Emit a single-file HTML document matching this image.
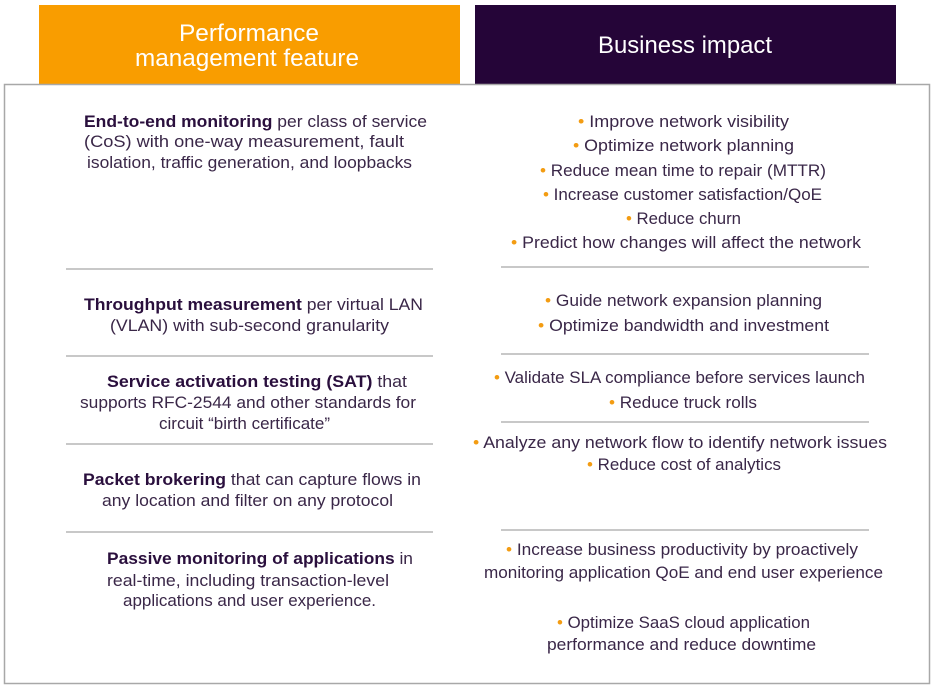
<!DOCTYPE html>
<html><head><meta charset="utf-8"><style>
html,body{margin:0;padding:0;background:#fff;}
svg{display:block;font-family:"Liberation Sans",sans-serif;}
.t{font-size:17px;fill:#3a2748;}
.b{font-weight:bold;fill:#2a0f3d;}
.o{fill:#f39c12;}
</style></head><body>
<svg width="934" height="689" viewBox="0 0 934 689" xmlns="http://www.w3.org/2000/svg">
<rect x="39" y="5" width="421" height="80" fill="#f99d00"/>
<rect x="475" y="5" width="421" height="80" fill="#250538"/>
<rect x="4.5" y="84.5" width="925" height="599" fill="none" stroke="#a8a8a8" stroke-width="1.5"/>
<text x="249" y="41" text-anchor="middle" font-size="24" fill="#fff" textLength="140" lengthAdjust="spacingAndGlyphs">Performance</text>
<text x="247" y="66" text-anchor="middle" font-size="24" fill="#fff" textLength="224" lengthAdjust="spacingAndGlyphs">management feature</text>
<text x="685" y="53" text-anchor="middle" font-size="24" fill="#fff" textLength="174" lengthAdjust="spacingAndGlyphs">Business impact</text>
<g stroke="#a8a8a8" stroke-width="1.3">
<line x1="66" y1="269" x2="433" y2="269"/><line x1="66" y1="356" x2="433" y2="356"/>
<line x1="66" y1="444" x2="433" y2="444"/><line x1="66" y1="532" x2="433" y2="532"/>
<line x1="501" y1="267" x2="869" y2="267"/><line x1="501" y1="354" x2="869" y2="354"/>
<line x1="501" y1="422" x2="869" y2="422"/><line x1="501" y1="530" x2="869" y2="530"/>
</g>
<g class="t">
<text x="84" y="127" textLength="343" lengthAdjust="spacingAndGlyphs"><tspan class="b">End-to-end monitoring</tspan> per class of service</text>
<text x="84" y="147" textLength="320" lengthAdjust="spacingAndGlyphs">(CoS) with one-way measurement, fault</text>
<text x="87" y="168" textLength="325" lengthAdjust="spacingAndGlyphs">isolation, traffic generation, and loopbacks</text>
<text x="84" y="310" textLength="339" lengthAdjust="spacingAndGlyphs"><tspan class="b">Throughput measurement</tspan> per virtual LAN</text>
<text x="110" y="331" textLength="279" lengthAdjust="spacingAndGlyphs">(VLAN) with sub-second granularity</text>
<text x="107" y="387" textLength="300" lengthAdjust="spacingAndGlyphs"><tspan class="b">Service activation testing (SAT)</tspan> that</text>
<text x="80" y="408" textLength="336" lengthAdjust="spacingAndGlyphs">supports RFC-2544 and other standards for</text>
<text x="159" y="429" textLength="171" lengthAdjust="spacingAndGlyphs">circuit “birth certificate”</text>
<text x="83" y="485" textLength="338" lengthAdjust="spacingAndGlyphs"><tspan class="b">Packet brokering</tspan> that can capture flows in</text>
<text x="102" y="506" textLength="291" lengthAdjust="spacingAndGlyphs">any location and filter on any protocol</text>
<text x="107" y="564" textLength="306" lengthAdjust="spacingAndGlyphs"><tspan class="b">Passive monitoring of applications</tspan> in</text>
<text x="107" y="586" textLength="282" lengthAdjust="spacingAndGlyphs">real-time, including transaction-level</text>
<text x="123" y="606" textLength="253" lengthAdjust="spacingAndGlyphs">applications and user experience.</text>

<text x="578" y="127" textLength="211" lengthAdjust="spacingAndGlyphs"><tspan class="o">• </tspan>Improve network visibility</text>
<text x="573" y="151" textLength="221" lengthAdjust="spacingAndGlyphs"><tspan class="o">• </tspan>Optimize network planning</text>
<text x="540" y="176" textLength="286" lengthAdjust="spacingAndGlyphs"><tspan class="o">• </tspan>Reduce mean time to repair (MTTR)</text>
<text x="543" y="200" textLength="279" lengthAdjust="spacingAndGlyphs"><tspan class="o">• </tspan>Increase customer satisfaction/QoE</text>
<text x="626" y="224" textLength="115" lengthAdjust="spacingAndGlyphs"><tspan class="o">• </tspan>Reduce churn</text>
<text x="511" y="248" textLength="350" lengthAdjust="spacingAndGlyphs"><tspan class="o">• </tspan>Predict how changes will affect the network</text>
<text x="545" y="306" textLength="277" lengthAdjust="spacingAndGlyphs"><tspan class="o">• </tspan>Guide network expansion planning</text>
<text x="538" y="331" textLength="291" lengthAdjust="spacingAndGlyphs"><tspan class="o">• </tspan>Optimize bandwidth and investment</text>
<text x="494" y="383" textLength="371" lengthAdjust="spacingAndGlyphs"><tspan class="o">• </tspan>Validate SLA compliance before services launch</text>
<text x="609" y="408" textLength="148" lengthAdjust="spacingAndGlyphs"><tspan class="o">• </tspan>Reduce truck rolls</text>
<text x="473" y="448" textLength="414" lengthAdjust="spacingAndGlyphs"><tspan class="o">• </tspan>Analyze any network flow to identify network issues</text>
<text x="587" y="470" textLength="194" lengthAdjust="spacingAndGlyphs"><tspan class="o">• </tspan>Reduce cost of analytics</text>
<text x="506" y="555" textLength="352" lengthAdjust="spacingAndGlyphs"><tspan class="o">• </tspan>Increase business productivity by proactively</text>
<text x="484" y="578" textLength="399" lengthAdjust="spacingAndGlyphs">monitoring application QoE and end user experience</text>
<text x="557" y="628" textLength="253" lengthAdjust="spacingAndGlyphs"><tspan class="o">• </tspan>Optimize SaaS cloud application</text>
<text x="547" y="650" textLength="269" lengthAdjust="spacingAndGlyphs">performance and reduce downtime</text>
</g>
</svg>
</body></html>
